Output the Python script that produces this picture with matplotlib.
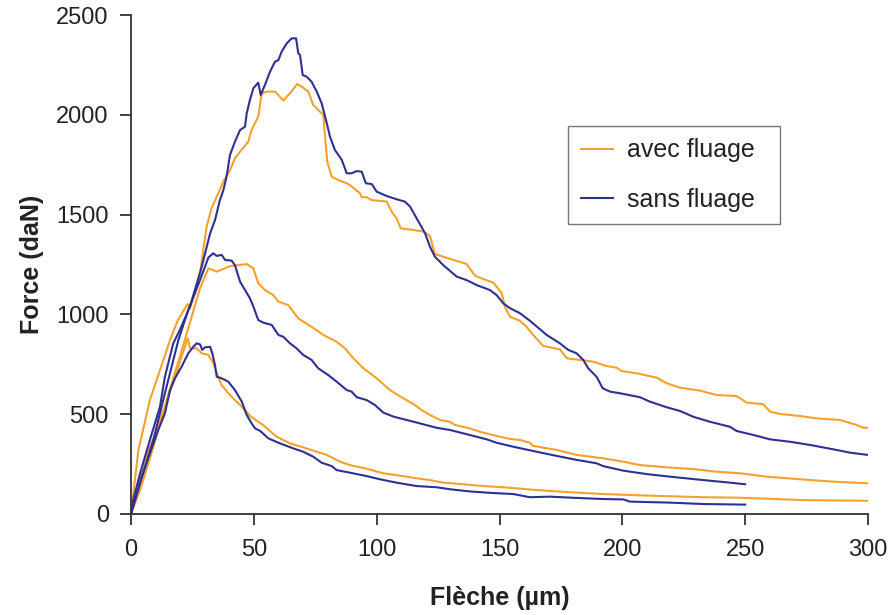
import matplotlib
matplotlib.use("Agg")
import matplotlib.pyplot as plt

plt.rcParams['font.family'] = ['Liberation Sans', 'DejaVu Sans']

# ---- data (x: Flèche µm, y: Force daN) ----
avec_hi_x = [0, 3, 7.7, 11.8, 15.9, 19.1, 23, 24, 26, 28.1, 29.4, 30.8, 32.8, 34.9, 37.6, 40.3, 42.3, 44.4, 47.7, 49.1,
             51.8, 53.2, 55.2, 58.6, 60, 62, 64.7, 67.7, 69.5, 72.2, 74.2, 76.2, 78.3, 79, 79.9, 81.7, 84.4, 87.8, 89.1,
             93.2, 93.9, 95.9, 98, 104.1, 106.1, 108.1, 109.8, 114.9, 119, 121.7, 123.7, 127.1, 131.2, 136.6, 140,
             143.4, 147.5, 150.9, 152.2, 154.3, 158.3, 161, 163.7, 167.8, 174.6, 177.4, 182.7, 188.2, 193.6, 197.7,
             199.7, 205.8, 214, 218, 223.5, 231.6, 238.4, 246.5, 250.6, 257.4, 260.1, 264.2, 272.3, 279.1, 288.6,
             295.4, 298.1, 300]
avec_hi_y = [0, 320, 571, 721, 872, 972, 1052, 1031, 1106, 1206, 1323, 1440, 1532, 1590, 1665, 1723, 1782, 1815, 1865, 1924,
             1991, 2108, 2116, 2116, 2099, 2071, 2108, 2154, 2141, 2116, 2049, 2024, 1999, 1890, 1765, 1690, 1673, 1657, 1648,
             1607, 1587, 1587, 1573, 1565, 1515, 1481, 1431, 1423, 1415, 1393, 1303, 1289, 1273, 1253, 1194,
             1177, 1159, 1106, 1039, 988, 968, 938, 897, 842, 825, 780, 772, 763, 741, 733,
             716, 705, 683, 655, 633, 618, 596, 591, 558, 550, 513, 501, 491, 479, 471,
             446, 432, 432]

sans_hi_x = [0, 0.9, 3.7, 7.7, 11.8, 13.8, 17.2, 19.9, 24, 28.8, 32.2, 34.2, 36.2, 37.6, 38.9, 40.3, 42.3, 44.4, 46.4,
             47.1, 48.4, 49.8, 51.8, 52.8, 54.5, 56.6, 58.6, 60, 61.3, 63.4, 65.4, 67.2, 68.1, 68.8, 69.9, 71.5, 73.5,
             75.6, 77.6, 79.7, 81, 83, 85.8, 87.8, 89.8, 91.9, 93.9, 95.6, 98, 100, 104.1, 108.1, 111.5, 113.6, 116.3,
             119.7, 121.7, 123.7, 127.1, 132.6, 136.6, 140.7, 146.1, 148.8, 151.5, 154.3, 158.3, 162.4, 169.2, 174.6,
             178, 181.4, 184.1, 186.1, 189.5, 192, 195, 199, 207.2, 211.2, 218, 223.5, 228.9, 235.7, 243.8, 246.5,
             253.3, 260.1, 268.2, 276.4, 285.9, 292.8, 300]
sans_hi_y = [0, 70, 204, 371, 538, 688, 855, 922, 1039, 1239, 1406, 1473, 1573, 1623, 1690, 1799, 1865, 1924, 1940,
             2007, 2074, 2133, 2161, 2099, 2149, 2216, 2266, 2274, 2316, 2358, 2383, 2383, 2308, 2300, 2199, 2191, 2166,
             2116, 2058, 1958, 1890, 1824, 1774, 1707, 1707, 1718, 1715, 1657, 1653, 1615, 1593, 1577, 1565, 1540, 1481,
             1406, 1339, 1289, 1247, 1189, 1172, 1147, 1122, 1097, 1056, 1031, 1006, 968, 897, 855,
             822, 805, 772, 730, 688, 630, 613, 605, 585, 563, 535, 516, 487, 462, 437, 416,
             396, 374, 362, 346, 324, 307, 296]

avec_mid_x = [0, 3.7, 9.1, 14.5, 19.9, 24.7, 28.1, 31.5, 34.9, 40.3, 47.1, 49.8, 51.8, 54.5, 57.9, 60, 64, 68.1, 73.5,
              78.3, 83.7, 87.1, 90.5, 94.6, 100, 105.4, 110.8, 115.6, 118.3, 121.7, 125.8, 129.8, 131.9, 138, 142, 148.8,
              154.3, 158.3, 162.4, 163.7, 173.3, 181.4, 192.2, 200.4, 207.2, 218, 228.9, 238.4, 247.9, 258.7, 272.3,
              285.9, 300]
avec_mid_y = [0, 120, 337, 571, 788, 988, 1131, 1231, 1214, 1242, 1252, 1231, 1156, 1122, 1097, 1064, 1047, 980, 938,
              897, 863, 830, 780, 730, 680, 621, 580, 546, 521, 496, 471, 462, 446, 429, 412, 391,
              376, 371, 357, 341, 321, 296, 279, 262, 245, 234, 225, 212, 204, 187, 174,
              162, 154]

sans_mid_x = [0, 0.3, 9.1, 13.1, 19.3, 23.3, 28.1, 31.5, 33.5, 34.9, 36.9, 38.3, 41, 42.3, 44.4, 46.4, 48.4, 49.8, 51.8,
              53.8, 57.3, 60, 62, 64.7, 67.4, 70.1, 73.5, 76.2, 80.3, 83.7, 87.8, 89.8, 91.9, 95.9, 99.3, 102.7, 106.8,
              112.2, 117.6, 124.4, 129.8, 135.3, 140.7, 144.8, 148.8, 155.6, 165.1, 173.3, 181.4, 189.5, 192.2, 200.4,
              209.9, 219.4, 232.9, 243.8, 250]
sans_mid_y = [0, 20, 371, 571, 872, 1022, 1172, 1285, 1306, 1293, 1298, 1273, 1269, 1247, 1164, 1122, 1081, 1040, 972,
              959, 947, 897, 888, 855, 830, 797, 772, 730, 696, 663, 621, 613, 585, 571, 546, 508, 488,
              471, 454, 432, 421, 404, 387, 374, 357, 337, 312, 291, 271, 254, 240, 217,
              200, 187, 170, 157, 149]

avec_lo_x = [0, 0.3, 3, 5.7, 8.4, 11.8, 15.2, 17.9, 20.6, 23.1, 24, 26.7, 28.8, 31.5, 33.5, 34.9, 36.9, 39.6, 42.3, 45.7,
             48.4, 51.8, 53.8, 59.3, 64.7, 70.1, 75.6, 79.7, 85.1, 89.1, 95.9, 102.7, 109.5, 116.3, 121.7, 127.1, 135.3,
             143.4, 151.5, 165.1, 178.7, 192.2, 205.8, 219.4, 232.9, 246.5, 258.7, 272.3, 285.9, 300]
avec_lo_y = [0, 20, 154, 271, 354, 471, 588, 688, 788, 880, 830, 830, 805, 797, 755, 705, 646, 605, 571, 530,
             492, 462, 446, 387, 354, 334, 312, 296, 262, 245, 227, 204, 192, 179, 170, 157, 149,
             140, 134, 120, 109, 100, 94, 89, 84, 82, 77, 70, 68, 66]

sans_lo_x = [0, 0.9, 4.4, 7.7, 11.1, 13.8, 15.9, 17.9, 20.6, 23.3, 25.4, 26.7, 28.1, 29, 30.1, 32.2, 33.1, 34.2, 34.9,
             36.9, 39.6, 42.3, 45.1, 47.1, 49.1, 50.5, 52.5, 55.9, 60.6, 66, 70.1, 74.2, 77.6, 81.7, 83.7, 89.1, 95.9,
             101.3, 108.1, 116.3, 124.4, 129.8, 138, 146.1, 155.6, 162.4, 170.5, 178.7, 192.2, 200.4, 203.1, 219.4,
             232.9, 250]
sans_lo_y = [0, 37, 187, 304, 421, 504, 621, 680, 738, 805, 838, 855, 850, 822, 835, 838, 805, 746, 688,
             680, 663, 621, 563, 496, 454, 429, 417, 379, 354, 329, 312, 287, 257, 240, 220, 207, 190,
             174, 157, 140, 134, 124, 113, 106, 100, 84, 87, 82, 75, 73, 62, 57,
             50, 47]

series_labels = ["avec fluage", "sans fluage"]
x_ticks = [0, 50, 100, 150, 200, 250, 300]
y_ticks = [0, 500, 1000, 1500, 2000, 2500]

ORANGE = '#F6A12E'
NAVY = '#2E3192'

fig = plt.figure(figsize=(8.93, 6.15), dpi=100)
ax = fig.add_axes([131/893, 1 - 514/615, (868 - 131)/893, (514 - 15)/615])

lw = 1.5
ax.plot(avec_hi_x, avec_hi_y, color=ORANGE, lw=lw, label=series_labels[0])
ax.plot(avec_mid_x, avec_mid_y, color=ORANGE, lw=lw)
ax.plot(avec_lo_x, avec_lo_y, color=ORANGE, lw=lw)
ax.plot(sans_hi_x, sans_hi_y, color=NAVY, lw=lw, label=series_labels[1])
ax.plot(sans_mid_x, sans_mid_y, color=NAVY, lw=lw)
ax.plot(sans_lo_x, sans_lo_y, color=NAVY, lw=lw)

ax.set_xlim(0, 300)
ax.set_ylim(0, 2500)
ax.set_xticks(x_ticks)
ax.set_yticks(y_ticks)
for s in ['top', 'right']:
    ax.spines[s].set_visible(False)
for s in ['left', 'bottom']:
    ax.spines[s].set_color('#333333')
    ax.spines[s].set_linewidth(1.3)
ax.tick_params(axis='both', direction='out', length=8, width=1.3, color='#333333',
               labelsize=17, labelcolor='#222222')
ax.tick_params(axis='y', pad=8)
ax.tick_params(axis='x', pad=10)

ax.set_xlabel("Flèche (µm)", fontsize=18, fontweight='bold', color='#222222', labelpad=18)
ax.set_ylabel("Force (daN)", fontsize=18, fontweight='bold', color='#222222', labelpad=9)

# legend box spans px x 568..780, y 126..220
lx0 = (568 - 131) / 737
lw_ = (780 - 568) / 737
ltop = (514 - 126) / 499
lbot = (514 - 220) / 499
leg = ax.legend(loc='upper left', bbox_to_anchor=(lx0, lbot, lw_, ltop - lbot), mode='expand',
                fontsize=18, frameon=True, fancybox=False, edgecolor='#555555',
                handlelength=1.3, labelspacing=1.0, borderpad=0.5, handletextpad=0.55,
                borderaxespad=0)
leg.get_frame().set_linewidth(1.0)
for t in leg.get_texts():
    t.set_color('#222222')

fig.savefig("out.png", dpi=100)
